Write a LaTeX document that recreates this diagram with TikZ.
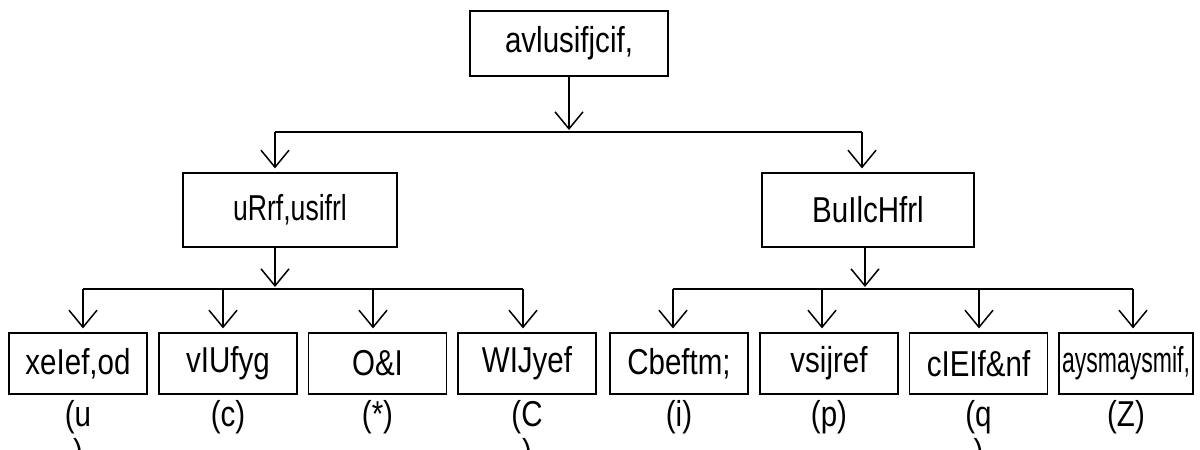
\documentclass[tikz,border=0pt]{standalone}
\usepackage{fontspec}
\setmainfont{Liberation Sans}[FakeStretch=0.82]
\usetikzlibrary{arrows.meta}

\begin{document}
\begin{tikzpicture}[x=1pt, y=-1pt,
    box/.style={draw, line width=1.2pt, minimum width=138pt, minimum height=61pt,
        inner sep=0pt, font=\fontsize{36}{40}\selectfont},
    tag/.style={anchor=north, align=center, inner sep=0pt, font=\fontsize{36}{38}\selectfont},
    arr/.style={line width=1.5pt, shorten >=4pt,
        -{Straight Barb[length=17pt, width=28pt, line width=1.5pt]}},
    bar/.style={line width=1.5pt}]
    \useasboundingbox (0,0) rectangle (1200,450);

    % Top
    \node[box, minimum width=198pt, minimum height=65pt] (root) at (569,43.5) {avlusifjcif,};

    % Middle level
    \node[box, minimum width=214pt, minimum height=74pt] (midl) at (290,210) {\scalebox{0.9}[1]{uRrf,usifrl}};
    \node[box, minimum width=212pt, minimum height=74pt] (midr) at (868,210) {BuIlcHfrl};

    % Bottom level
    \node[box] (b1) at (78,363.5) {xeIef,od};
    \node[box] (b2) at (228,363.5) {vIUfyg};
    \node[box] (b3) at (377.5,363.5) {O\&I};
    \node[box] (b4) at (527,363.5) {WIJyef};
    \node[box] (b5) at (679,363.5) {Cbeftm;};
    \node[box] (b6) at (829,363.5) {vsijref};
    \node[box] (b7) at (978.5,363.5) {cIEIf\&nf};
    \node[box, minimum width=134pt] (b8) at (1126,363.5) {\scalebox{0.78}[1]{aysmaysmif,}};

    % Tags under the boxes
    \node[tag] (t1) at (78,400) {(u\\)};
    \node[tag] (t2) at (228,400) {(c)};
    \node[tag] (t3) at (377.5,400) {(*)};
    \node[tag] (t4) at (527,400) {(C\\)};
    \node[tag] (t5) at (679,400) {(i)};
    \node[tag] (t6) at (829,400) {(p)};
    \node[tag] (t7) at (978.5,400) {(q\\)};
    \node[tag] (t8) at (1126,400) {(Z)};

    % Junctions
    \coordinate (j0) at (569,132);
    \coordinate (jl) at (275,132);
    \coordinate (jr) at (862,132);
    \coordinate (kl) at (275,289);
    \coordinate (kr) at (865,289);
    \coordinate (k1) at (83,289);
    \coordinate (k2) at (223,289);
    \coordinate (k3) at (373,289);
    \coordinate (k4) at (523,289);
    \coordinate (k5) at (673,289);
    \coordinate (k6) at (822,289);
    \coordinate (k7) at (979,289);
    \coordinate (k8) at (1133,289);

    % Arrows
    \draw[arr, shorten >=2pt] (root.south) -- (j0);
    \draw[bar] (jl) -- (jr);
    \draw[arr] (jl) -- (midl.north -| jl);
    \draw[arr] (jr) -- (midr.north -| jr);

    \draw[arr, shorten >=2pt] (midl.south -| kl) -- (kl);
    \draw[bar] (k1) -- (k4);
    \draw[arr] (k1) -- (b1.north -| k1);
    \draw[arr] (k2) -- (b2.north -| k2);
    \draw[arr] (k3) -- (b3.north -| k3);
    \draw[arr] (k4) -- (b4.north -| k4);

    \draw[arr, shorten >=2pt] (midr.south -| kr) -- (kr);
    \draw[bar] (k5) -- (k8);
    \draw[arr] (k5) -- (b5.north -| k5);
    \draw[arr] (k6) -- (b6.north -| k6);
    \draw[arr] (k7) -- (b7.north -| k7);
    \draw[arr] (k8) -- (b8.north -| k8);
\end{tikzpicture}
\end{document}
